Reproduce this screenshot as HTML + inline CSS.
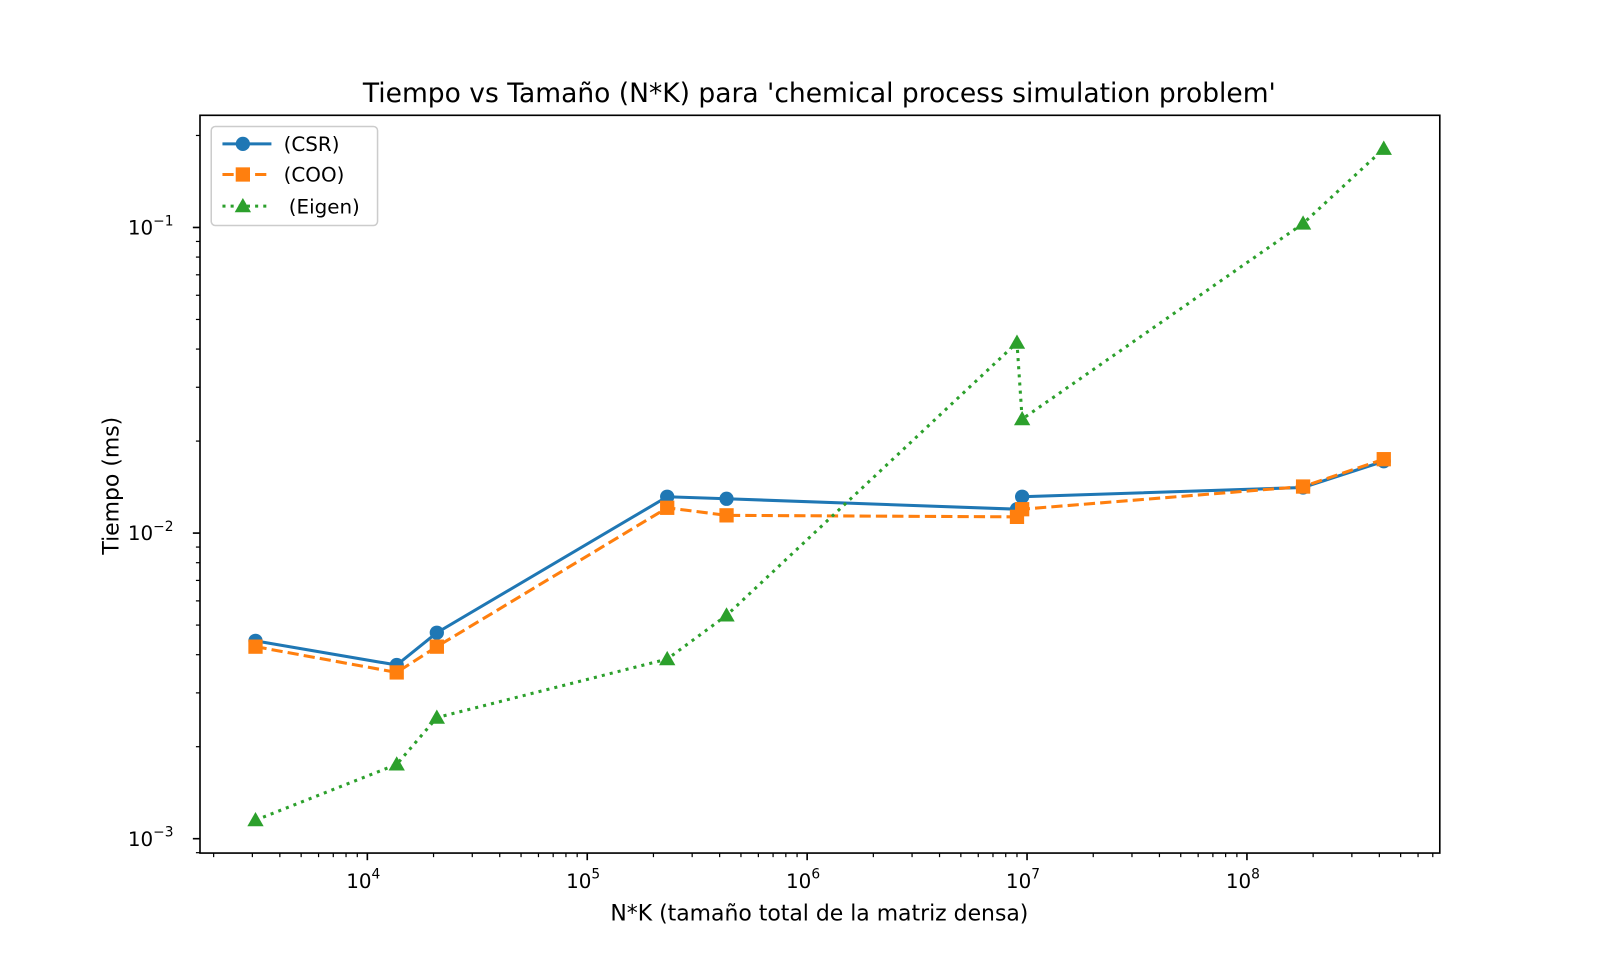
<!DOCTYPE html>
<html><head><meta charset="utf-8"><style>
body{margin:0;background:#fff;font-family:"Liberation Sans","DejaVu Sans",sans-serif}
svg text{font-family:"DejaVu Sans","Liberation Sans",sans-serif;fill:#000}
</style></head><body>
<svg id="c" width="1600" height="960" viewBox="0 0 1600 960" xmlns="http://www.w3.org/2000/svg">
<rect width="1600" height="960" fill="#fff"/>
<g transform="scale(1.020408)">
<text x="803" y="100" font-size="26" text-anchor="middle">Tiempo vs Tamaño (N*K) para 'chemical process simulation problem'</text>
<text x="803" y="902" font-size="21.5" text-anchor="middle">N*K (tamaño total de la matriz densa)</text>
<text x="116" y="476" font-size="21.5" text-anchor="middle" transform="rotate(-90 116 476)">Tiempo (ms)</text>
<g id="axes"></g>
<g id="series"></g>
<rect x="196" y="113" width="1215" height="723" fill="none" stroke="#000" stroke-width="1.6"/>
<g>
<rect x="207" y="124" width="163" height="97" rx="4" fill="#fff" fill-opacity="0.8" stroke="#ccc" stroke-width="1.5"/>
<g><line x1="218" y1="141" x2="266" y2="141" stroke="#1f77b4" stroke-width="3"/><circle cx="238" cy="141" r="7" fill="#1f77b4"/><text x="278" y="148" font-size="19.5">(CSR)</text></g>
<g><line x1="218" y1="171" x2="266" y2="171" stroke="#ff7f0e" stroke-width="3" stroke-dasharray="11,5"/><rect x="231" y="164" width="14" height="14" fill="#ff7f0e"/><text x="278" y="178" font-size="19.5">(COO)</text></g>
<g><line x1="218" y1="202" x2="266" y2="202" stroke="#2ca02c" stroke-width="3" stroke-dasharray="3,5"/><polygon points="238,194 246,208 230,208" fill="#2ca02c"/><text x="283" y="209" font-size="19.5">(Eigen)</text></g>
</g>
</g>
</svg>
<script>
const xs=[3100,13600,20700,231000,430000,9.0e6,9.5e6,1.8e8,4.19e8];
const csr=[0.00444,0.0037,0.00472,0.01315,0.01295,0.01197,0.01315,0.0141,0.01718];
const coo=[0.00425,0.0035,0.00425,0.0121,0.01143,0.0113,0.01197,0.0142,0.01745];
const eigen=[0.00115,0.00175,0.00249,0.00387,0.00538,0.042,0.0236,0.103,0.181];
const xTickExp=[4,5,6,7,8];
const yTickExp=[-3,-2,-1];
const NS='http://www.w3.org/2000/svg';
const L=196,R=1411,T=113,B=836,xMin=3.239,xMax=8.877,yMin=-3.047,yMax=-0.633;
const X=v=>L+(Math.log10(v)-xMin)/(xMax-xMin)*(R-L);
const Y=v=>B-(Math.log10(v)-yMin)/(yMax-yMin)*(B-T);
function mk(t,a,p){const e=document.createElementNS(NS,t);for(const k in a)e.setAttribute(k,a[k]);p.appendChild(e);return e;}
const ax=document.getElementById('axes');
for(let d=3;d<=8;d++)for(let m=1;m<=9;m++){const v=m*Math.pow(10,d);const lv=Math.log10(v);if(lv<xMin||lv>xMax)continue;const x=X(v);
 const t=mk('line',{x1:x,x2:x,y1:B,y2:B+(m==1?7:4),stroke:'#000','stroke-width':m==1?1.6:1.2},ax);
 }
xTickExp.forEach(e=>{const x=X(Math.pow(10,e));const t=mk('text',{x:x-4,y:870,'font-size':19.5,'text-anchor':'middle'},ax);
 
 t.textContent='10';const s=mk('tspan',{dy:-9,'font-size':13.5},t);s.textContent=e;});
for(let d=-4;d<=-1;d++)for(let m=1;m<=9;m++){const v=m*Math.pow(10,d);const lv=Math.log10(v);if(lv<yMin||lv>yMax)continue;const y=Y(v);
 const t=mk('line',{x1:L,x2:L-(m==1?7:4),y1:y,y2:y,stroke:'#000','stroke-width':m==1?1.6:1.2},ax);
 }
yTickExp.forEach(e=>{const y=Y(Math.pow(10,e));const t=mk('text',{x:170,y:y+7,'font-size':19.5,'text-anchor':'end'},ax);
 
 t.textContent='10';const s=mk('tspan',{dy:-9,'font-size':13.5},t);s.textContent='−'+(-e);});
const sg=document.getElementById('series');
function series(vals,col,dash,shape,name){
 const g=mk('g',{},sg);
 
 
 const pts=vals.map((v,i)=>X(xs[i])+','+Y(v)).join(' ');
 mk('polyline',{points:pts,fill:'none',stroke:col,'stroke-width':3,'stroke-dasharray':dash},g);
 vals.forEach((v,i)=>{const x=X(xs[i]),y=Y(v);let e;
  if(shape=='c')e=mk('circle',{cx:x,cy:y,r:7,fill:col},g);
  else if(shape=='s')e=mk('rect',{x:x-7,y:y-7,width:14,height:14,fill:col},g);
  else e=mk('polygon',{points:`${x},${y-8} ${x+8},${y+6} ${x-8},${y+6}`,fill:col},g);
  
  });
}
series(csr,'#1f77b4','none','c','series-csr');
series(coo,'#ff7f0e','11,5','s','series-coo');
series(eigen,'#2ca02c','3,5','t','series-eigen');
</script>
</body></html>
